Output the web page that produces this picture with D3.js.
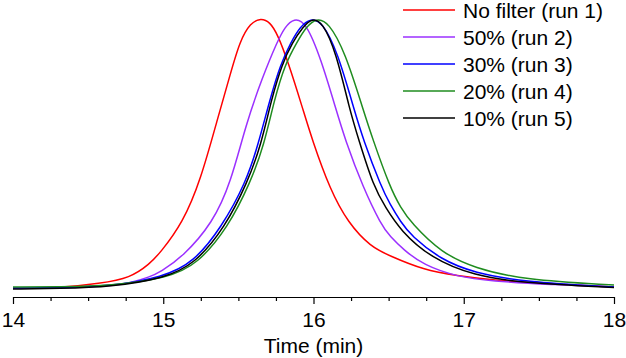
<!DOCTYPE html>
<html>
<head>
<meta charset="utf-8">
<script src="https://cdn.jsdelivr.net/npm/d3@7"></script>
<style>
  html, body { margin: 0; padding: 0; background: #fff; }
  svg { display: block; }
  text { font-family: "Liberation Sans", Arial, sans-serif; fill: #000; }
</style>
</head>
<body>
<svg id="chart" width="626" height="358"></svg>
<script>
// ---- data ----
const seriesNames = ["No filter (run 1)", "50% (run 2)", "30% (run 3)", "20% (run 4)", "10% (run 5)"];
const seriesColors = ["#ff0000", "#9b30ff", "#0000ff", "#1f8c1f", "#000000"];

const run1Time = [14.00,14.31,14.58,14.78,14.91,14.98,15.13,15.25,15.36,15.45,15.51,15.58,15.65,15.71,15.76,15.83,15.93,15.99,16.11,16.23,16.38,16.51,16.73,16.96,17.18,17.58,18.00];
const run1Signal = [0.6,0.7,2.4,4.4,9.6,13.7,24.7,40.6,62.7,80.1,91.5,98.2,100,98.5,94.1,84.1,66.4,55.4,36.9,24.7,15.9,12.5,7.4,5.2,3.7,2.2,1.1];

const run2Time = [14.00,14.31,14.65,14.78,14.91,14.98,15.13,15.33,15.45,15.55,15.66,15.76,15.81,15.87,15.95,16.05,16.15,16.21,16.33,16.45,16.51,16.60,16.73,16.96,17.18,17.58,18.00];
const run2Signal = [0.6,0.7,1.5,2.6,4.8,6.6,12.2,24.7,39.5,60.9,78.2,91.5,96.7,100,98.5,84.9,66.4,55.4,37.6,24.0,19.6,14.8,9.2,4.8,3.3,2.0,1.1];

const run3Time = [14.00,14.31,14.65,15.00,15.20,15.39,15.55,15.63,15.71,15.78,15.85,15.91,15.98,16.06,16.16,16.27,16.33,16.45,16.51,16.58,16.65,16.85,17.07,17.40,18.00];
const run3Signal = [0.74,0.92,1.3,4.8,10.0,23.2,39.5,53.1,70.1,83.0,91.1,96.7,100,98.5,87.5,66.4,55.4,38.0,31.4,25.1,19.9,11.1,6.3,3.0,1.1];

const run4Time = [14.00,14.31,14.65,15.03,15.23,15.43,15.58,15.67,15.74,15.81,15.89,15.95,16.02,16.10,16.21,16.33,16.39,16.51,16.58,16.65,16.85,17.07,17.40,18.00];
const run4Signal = [1.1,1.1,1.5,4.4,9.6,22.9,39.5,53.1,70.1,83.0,91.1,96.7,100,98.5,87.5,66.4,56.1,37.6,30.3,24.7,13.7,8.1,3.7,1.8];

const run5Time = [14.00,14.31,14.65,15.01,15.21,15.41,15.56,15.65,15.72,15.79,15.86,15.93,15.99,16.06,16.15,16.24,16.30,16.40,16.48,16.58,16.78,17.07,17.40,18.00];
const run5Signal = [0.37,0.55,1.1,4.4,9.6,22.9,39.5,53.1,70.1,83.0,91.1,96.7,100,98.5,87.5,66.4,55.4,38.0,30.3,21.8,11.8,5.2,2.6,0.9];

const majorTicks = [14, 15, 16, 17, 18];
const minorTicks = [14.25,14.5,14.75,15.25,15.5,15.75,16.25,16.5,16.75,17.25,17.5,17.75];
const xTitle = "Time (min)";

// ---- build ----
const times = [run1Time, run2Time, run3Time, run4Time, run5Time];
const signals = [run1Signal, run2Signal, run3Signal, run4Signal, run5Signal];
const series = seriesNames.map((name, i) => ({
  name, color: seriesColors[i],
  points: times[i].map((t, j) => [t, signals[i][j]])
}));

const svg = d3.select("#chart");
const x = d3.scaleLinear().domain([14, 18]).range([13, 614]);
const y = d3.scaleLinear().domain([0, 100]).range([290, 18]);
const axisY = 297;

const line = d3.line()
  .x(d => x(d[0]))
  .y(d => y(d[1]))
  .curve(d3.curveBasis);

svg.append("g").selectAll("path")
  .data(series)
  .join("path")
  .attr("d", d => line(d.points))
  .attr("fill", "none")
  .attr("stroke", d => d.color)
  .attr("stroke-width", 1.5);

// minor ticks
svg.append("g")
  .attr("transform", `translate(0,${axisY})`)
  .call(d3.axisBottom(x).tickValues(minorTicks).tickSize(4).tickSizeOuter(0).tickFormat(""))
  .call(g => g.select(".domain").remove())
  .call(g => g.selectAll("line").attr("stroke", "#000").attr("stroke-width", 1.2));

// major axis
const gx = svg.append("g")
  .attr("transform", `translate(0,${axisY})`)
  .call(d3.axisBottom(x).tickValues(majorTicks).tickSize(7).tickSizeOuter(0).tickPadding(8).tickFormat(d3.format("d")));
gx.select(".domain").attr("stroke", "#000").attr("stroke-width", 1.2);
gx.selectAll("line").attr("stroke", "#000").attr("stroke-width", 1.2);
gx.selectAll("text")
  .style("font-family", '"Liberation Sans", Arial, sans-serif')
  .style("font-size", "21px")
  .attr("fill", "#000");

svg.append("text")
  .attr("x", (x(14) + x(18)) / 2)
  .attr("y", 353)
  .attr("text-anchor", "middle")
  .style("font-size", "21px")
  .text(xTitle);

// legend
const legend = svg.append("g").selectAll("g")
  .data(series)
  .join("g")
  .attr("transform", (d, i) => `translate(403,${10 + i * 27})`);
legend.append("line")
  .attr("x1", 0).attr("x2", 52).attr("y1", 0).attr("y2", 0)
  .attr("stroke", d => d.color).attr("stroke-width", 1.5);
legend.append("text")
  .attr("x", 60).attr("y", 8)
  .style("font-size", "21px")
  .text(d => d.name);
</script>
</body>
</html>
